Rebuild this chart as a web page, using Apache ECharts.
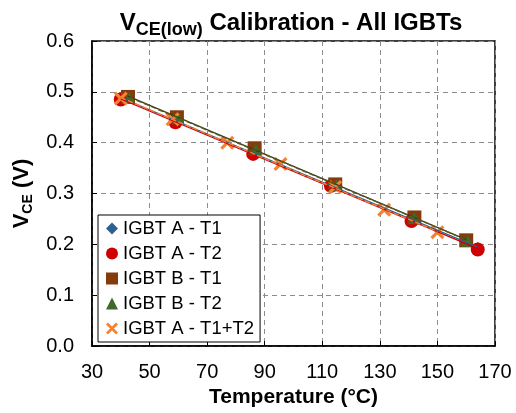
<!DOCTYPE html>
<html>
<head>
<meta charset="utf-8">
<script src="https://cdn.jsdelivr.net/npm/echarts@6/dist/echarts.min.js"></script>
<style>
  html, body { margin: 0; padding: 0; background: #fff; }
  #chart { width: 516px; height: 413px; }
</style>
</head>
<body>
<div id="chart"></div>
<script>
// Calibration measurements: temperature (°C) vs V_CE(low) (V)
const tempA = [40, 59, 86, 113, 141, 164];
const vceA_T1 = [0.487, 0.443, 0.381, 0.317, 0.249, 0.193];
const vceA_T2 = [0.485, 0.440, 0.378, 0.315, 0.246, 0.190];

const tempB_T1 = [42.5, 59.5, 86.5, 114.5, 142, 160];
const vceB_T1 = [0.490, 0.450, 0.389, 0.318, 0.253, 0.208];
const tempB_T2 = [43, 60, 87, 115, 142, 160.5];
const vceB_T2 = [0.488, 0.448, 0.386, 0.317, 0.252, 0.207];

const tempA_T12 = [40, 58, 77, 95.5, 114.5, 131.5, 150];
const vceA_T12 = [0.487, 0.446, 0.400, 0.358, 0.313, 0.268, 0.224];

const xTicks = [30, 50, 70, 90, 110, 130, 150, 170];
const yTicks = [0.0, 0.1, 0.2, 0.3, 0.4, 0.5, 0.6];

const names = ['IGBT A - T1', 'IGBT A - T2', 'IGBT B - T1', 'IGBT B - T2', 'IGBT A - T1+T2'];

const FONT = 'Liberation Sans, Arial, sans-serif';
const crossPath = 'path://M0,1.6L1.6,0L5,3.4L8.4,0L10,1.6L6.6,5L10,8.4L8.4,10L5,6.6L1.6,10L0,8.4L3.4,5Z';

function pairs(xs, ys) { return xs.map((x, i) => [x, ys[i]]); }

// Least-squares linear trendline over the measured temperature range
function trend(xs, ys) {
  const n = xs.length;
  const mx = xs.reduce((a, b) => a + b, 0) / n;
  const my = ys.reduce((a, b) => a + b, 0) / n;
  let sxy = 0, sxx = 0;
  for (let i = 0; i < n; i++) { sxy += (xs[i] - mx) * (ys[i] - my); sxx += (xs[i] - mx) ** 2; }
  const k = sxy / sxx, b = my - k * mx;
  const x0 = Math.min(...xs), x1 = Math.max(...xs);
  return [[x0, k * x0 + b], [x1, k * x1 + b]];
}

const sets = [
  { name: names[0], x: tempA, y: vceA_T1, color: '#2F5F8F', symbol: 'diamond', size: 12, lineType: 'solid' },
  { name: names[1], x: tempA, y: vceA_T2, color: '#D00000', symbol: 'circle', size: 14, lineType: 'solid' },
  { name: names[2], x: tempB_T1, y: vceB_T1, color: '#843C0C', symbol: 'rect', size: 14, lineType: 'solid', lineColor: '#3A3A1A' },
  { name: names[3], x: tempB_T2, y: vceB_T2, color: '#3F6B2A', symbol: 'triangle', size: 12, lineType: 'dashed', lineColor: '#5A5A20' },
  { name: names[4], x: tempA_T12, y: vceA_T12, color: '#F58232', symbol: crossPath, size: 14, lineType: 'dashed' }
];

const series = [];
sets.forEach(s => {
  series.push({
    name: s.name, type: 'scatter', data: pairs(s.x, s.y),
    symbol: s.symbol, symbolSize: s.size,
    itemStyle: { color: s.color, opacity: 1 },
    z: 3
  });
});
// trendlines sit above the markers
sets.forEach(s => {
  series.push({
    type: 'line', data: trend(s.x, s.y), showSymbol: false, silent: true,
    lineStyle: { color: s.lineColor || s.color, width: 1.3, type: s.lineType },
    z: 4
  });
});

const chart = echarts.init(document.getElementById('chart'), null, { renderer: 'canvas' });
chart.setOption({
  animation: false,
  backgroundColor: '#fff',
  title: {
    text: '{v|V}{sub|CE(low)}{v| Calibration - All IGBTs}',
    left: 286, top: 2, textAlign: 'center',
    textStyle: {
      rich: {
        v: { fontFamily: FONT, fontWeight: 'bold', fontSize: 24, color: '#000', height: 30 },
        sub: { fontFamily: FONT, fontWeight: 'bold', fontSize: 18, color: '#000', verticalAlign: 'bottom', padding: [14, 0, 0, 0] }
      }
    }
  },
  grid: { left: 92, right: 21, top: 41, bottom: 65, show: true, borderColor: '#000', borderWidth: 1.5 },
  legend: {
    data: names, orient: 'vertical', left: 98, top: 215,
    backgroundColor: '#fff', borderColor: '#000', borderWidth: 1,
    padding: [4, 6, 4, 8], itemGap: 6, itemWidth: 12, itemHeight: 12,
    textStyle: { fontFamily: FONT, fontSize: 18.5, color: '#000', lineHeight: 18 }
  },
  xAxis: {
    type: 'value', min: 30, max: 170, interval: 20,
    name: 'Temperature (°C)', nameLocation: 'middle', nameGap: 38,
    nameTextStyle: { fontFamily: FONT, fontWeight: 'bold', fontSize: 21, color: '#000' },
    axisLine: { show: true, lineStyle: { color: '#000', width: 1.5 } },
    axisTick: { show: true, inside: true, length: 5, lineStyle: { color: '#000' } },
    axisLabel: { fontFamily: FONT, fontSize: 20, color: '#000', margin: 16,
      formatter: v => xTicks.includes(v) ? String(v) : '' },
    splitLine: { show: true, lineStyle: { color: '#8c8c8c', type: [5, 4], width: 1 } }
  },
  yAxis: {
    type: 'value', min: 0, max: 0.6, interval: 0.1,
    name: '{b|V}{s|CE}{b| (V)}', nameLocation: 'middle', nameGap: 54, nameRotate: 90,
    nameTextStyle: {
      rich: {
        b: { fontFamily: FONT, fontWeight: 'bold', fontSize: 22, color: '#000' },
        s: { fontFamily: FONT, fontWeight: 'bold', fontSize: 14, color: '#000', verticalAlign: 'bottom', padding: [12, 0, 0, 0] }
      }
    },
    axisLine: { show: true, lineStyle: { color: '#000', width: 1.5 } },
    axisTick: { show: true, inside: true, length: 5, lineStyle: { color: '#000' } },
    axisLabel: { fontFamily: FONT, fontSize: 20, color: '#000', margin: 18,
      formatter: v => yTicks.find(t => Math.abs(t - v) < 1e-9) !== undefined ? v.toFixed(1) : '' },
    splitLine: { show: true, lineStyle: { color: '#8c8c8c', type: [5, 4], width: 1 } }
  },
  series: series
});
</script>
</body>
</html>
